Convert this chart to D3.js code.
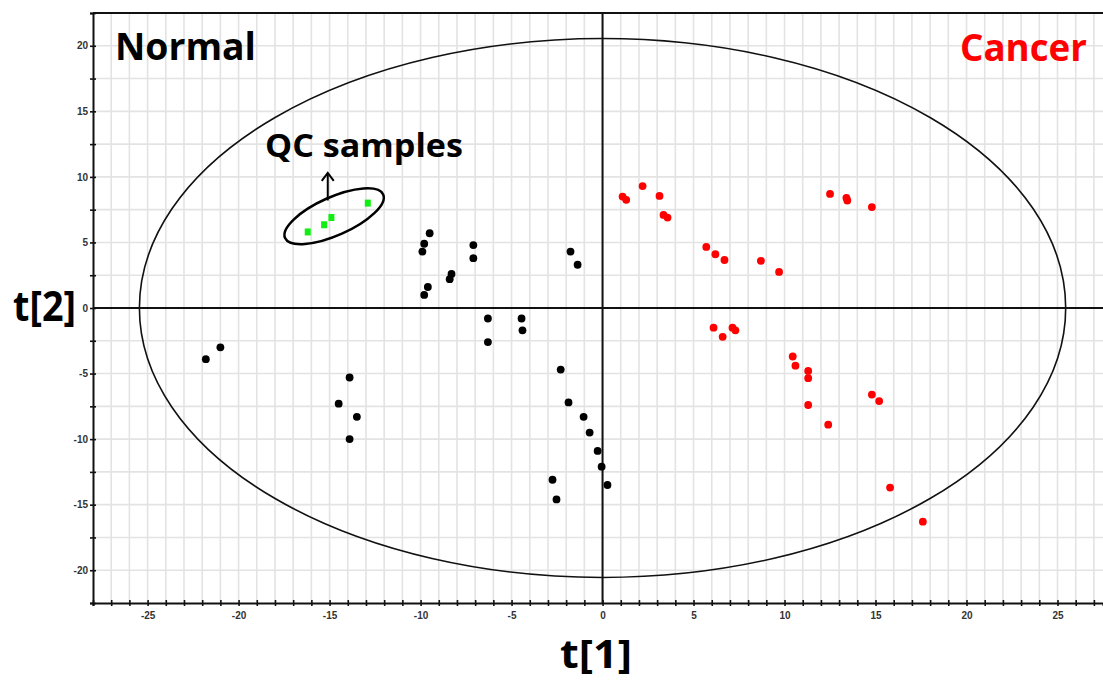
<!DOCTYPE html>
<html>
<head>
<meta charset="utf-8">
<script src="https://cdn.jsdelivr.net/npm/d3@7"></script>
<style>
  html, body { margin: 0; padding: 0; background: #fff; }
  svg { display: block; }
</style>
</head>
<body>
<svg id="chart" width="1103" height="682"></svg>
<script>
// ---- Data ----
const normalT1 = [-21.8, -21.0, -13.9, -14.5, -13.5, -13.9, -9.5, -9.8, -9.9, -7.1, -7.1, -8.3, -8.4, -9.6, -9.8, -1.76, -1.37, -6.3, -6.3, -4.45, -4.4, -2.3, -1.87, -1.04, -0.71, -0.27, -0.05, 0.27, -2.75, -2.53];
const normalT2 = [-3.9, -3.0, -5.3, -7.3, -8.3, -10.0, 5.7, 4.9, 4.3, 4.8, 3.8, 2.6, 2.2, 1.6, 1.0, 4.3, 3.3, -0.8, -2.6, -0.8, -1.7, -4.7, -7.2, -8.3, -9.5, -10.9, -12.1, -13.5, -13.1, -14.6];

const cancerT1 = [1.1, 1.3, 2.2, 3.13, 3.35, 3.57, 5.7, 6.2, 6.7, 8.7, 9.7, 12.5, 13.4, 13.45, 14.8, 6.1, 6.6, 7.14, 7.3, 10.45, 10.6, 11.3, 11.3, 11.3, 12.4, 14.8, 15.2, 15.8, 17.6];
const cancerT2 = [8.5, 8.25, 9.3, 8.55, 7.1, 6.9, 4.66, 4.1, 3.66, 3.6, 2.75, 8.7, 8.4, 8.2, 7.7, -1.5, -2.2, -1.5, -1.7, -3.7, -4.4, -4.8, -5.35, -7.4, -8.9, -6.6, -7.1, -13.7, -16.3];

const qcT1 = [-16.2, -15.3, -14.9, -12.9];
const qcT2 = [5.8, 6.35, 6.9, 8.0];

const xDomain = [-28, 27.5];
const yDomain = [-22.5, 22.5];
const xTickLabels = [-25, -20, -15, -10, -5, 0, 5, 10, 15, 20, 25];
const yTickLabels = [-20, -15, -10, -5, 0, 5, 10, 15, 20];
const ellipseRadii = [25.45, 20.55];   // Hotelling T2 ellipse (t1, t2)
const qcEllipse = { cx: -14.75, cy: 7.0, rx: 2.95, ry: 1.05, angle: -24 };
const groupLabels = ["Normal", "Cancer"];
const annotation = "QC samples";
const xTitle = "t[1]";
const yTitle = "t[2]";

// ---- Layout ----
const svg = d3.select("#chart");
const x = d3.scaleLinear().domain(xDomain).range([93, 1103]);
const y = d3.scaleLinear().domain(yDomain).range([603, 13]);

// grid
const gridX = d3.range(-27, 28, 1);
const gridY = d3.range(-20, 22.6, 2.5);
svg.append("g").selectAll("line").data(gridX).join("line")
  .attr("x1", d => x(d)).attr("x2", d => x(d))
  .attr("y1", y(yDomain[1])).attr("y2", y(yDomain[0]))
  .attr("stroke", "#e3e3e3").attr("stroke-width", 1.6);
svg.append("g").selectAll("line").data(gridY).join("line")
  .attr("x1", x(xDomain[0])).attr("x2", x(xDomain[1]))
  .attr("y1", d => y(d)).attr("y2", d => y(d))
  .attr("stroke", "#e3e3e3").attr("stroke-width", 1.6);

// T2 ellipse
svg.append("ellipse")
  .attr("cx", x(0)).attr("cy", y(0))
  .attr("rx", x(ellipseRadii[0]) - x(0))
  .attr("ry", y(0) - y(ellipseRadii[1]))
  .attr("fill", "none").attr("stroke", "#111").attr("stroke-width", 1.6);

// origin lines
svg.append("line").attr("x1", x(0)).attr("x2", x(0))
  .attr("y1", y(yDomain[1])).attr("y2", y(yDomain[0]))
  .attr("stroke", "#111").attr("stroke-width", 2);
svg.append("line").attr("x1", x(xDomain[0])).attr("x2", x(xDomain[1]))
  .attr("y1", y(0)).attr("y2", y(0))
  .attr("stroke", "#111").attr("stroke-width", 2);

// top frame
svg.append("line").attr("x1", x(xDomain[0])).attr("x2", x(xDomain[1]))
  .attr("y1", y(yDomain[1])).attr("y2", y(yDomain[1]))
  .attr("stroke", "#111").attr("stroke-width", 2);

// axes
const xAxis = d3.axisBottom(x)
  .tickValues(d3.range(-28, 28, 1))
  .tickSize(3)
  .tickFormat(d => xTickLabels.includes(d) ? d : "");
const gx = svg.append("g").attr("transform", `translate(0,${y(yDomain[0])})`).call(xAxis);
gx.select(".domain").attr("stroke", "#111").attr("stroke-width", 2);
gx.selectAll(".tick line").attr("stroke", "#111").attr("stroke-width", 1.6).attr("y1", -3).attr("y2", 3);
gx.selectAll(".tick text").attr("font-family", "Liberation Sans, Arial, sans-serif")
  .attr("font-size", 10).attr("font-weight", "bold").attr("fill", "#333").attr("dy", "0.95em").attr("y", 6);

const yAxis = d3.axisLeft(y)
  .tickValues(d3.range(-22.5, 22.6, 2.5))
  .tickSize(3)
  .tickFormat(d => yTickLabels.includes(d) ? d : "");
const gy = svg.append("g").attr("transform", `translate(${x(xDomain[0])},0)`).call(yAxis);
gy.select(".domain").attr("stroke", "#111").attr("stroke-width", 2);
gy.selectAll(".tick line").attr("stroke", "#111").attr("stroke-width", 1.6).attr("x1", -3).attr("x2", 3);
gy.selectAll(".tick text").attr("font-family", "Liberation Sans, Arial, sans-serif")
  .attr("font-size", 10).attr("font-weight", "bold").attr("fill", "#333").attr("x", -5);

// points
const normal = normalT1.map((d, i) => [d, normalT2[i]]);
const cancer = cancerT1.map((d, i) => [d, cancerT2[i]]);
const qc = qcT1.map((d, i) => [d, qcT2[i]]);

svg.append("g").selectAll("circle").data(normal).join("circle")
  .attr("cx", d => x(d[0])).attr("cy", d => y(d[1])).attr("r", 3.9).attr("fill", "#000");
svg.append("g").selectAll("circle").data(cancer).join("circle")
  .attr("cx", d => x(d[0])).attr("cy", d => y(d[1])).attr("r", 3.9).attr("fill", "#ff0000");
svg.append("g").selectAll("rect").data(qc).join("rect")
  .attr("x", d => x(d[0]) - 3).attr("y", d => y(d[1]) - 3.5)
  .attr("width", 6).attr("height", 7).attr("fill", "#11ee11");

// QC ellipse + arrow
svg.append("ellipse")
  .attr("transform", `translate(${x(qcEllipse.cx)},${y(qcEllipse.cy)}) rotate(${qcEllipse.angle})`)
  .attr("rx", x(qcEllipse.cx + qcEllipse.rx) - x(qcEllipse.cx))
  .attr("ry", y(qcEllipse.cy) - y(qcEllipse.cy + qcEllipse.ry * 1.39))
  .attr("fill", "none").attr("stroke", "#000").attr("stroke-width", 2.5);

const ax = x(-15.1), ay0 = y(8.2), ay1 = y(10.3);
svg.append("line").attr("x1", ax).attr("x2", ax).attr("y1", ay0).attr("y2", ay1)
  .attr("stroke", "#000").attr("stroke-width", 2);
svg.append("path")
  .attr("d", `M${ax - 6},${ay1 + 8} L${ax},${ay1} L${ax + 6},${ay1 + 8}`)
  .attr("fill", "none").attr("stroke", "#000").attr("stroke-width", 2);

// texts
const bigFont = "'Open Sans', Lato, sans-serif";
function bigText(tx, ty, str, size, len, color, anchor) {
  return svg.append("text").attr("x", tx).attr("y", ty).text(str)
    .attr("text-anchor", anchor || "start")
    .attr("font-family", bigFont).attr("font-weight", 700).attr("font-size", size)
    .attr("fill", color).attr("textLength", len).attr("lengthAdjust", "spacingAndGlyphs");
}
bigText(115, 60, groupLabels[0], 38, 141, "#000");
bigText(960, 61, groupLabels[1], 38, 127, "#ff0000");
bigText(265, 157, annotation, 33, 198, "#000");
bigText(560, 668, xTitle, 40, 72, "#000");
bigText(13, 321, yTitle, 41, 63, "#000");
</script>
</body>
</html>
